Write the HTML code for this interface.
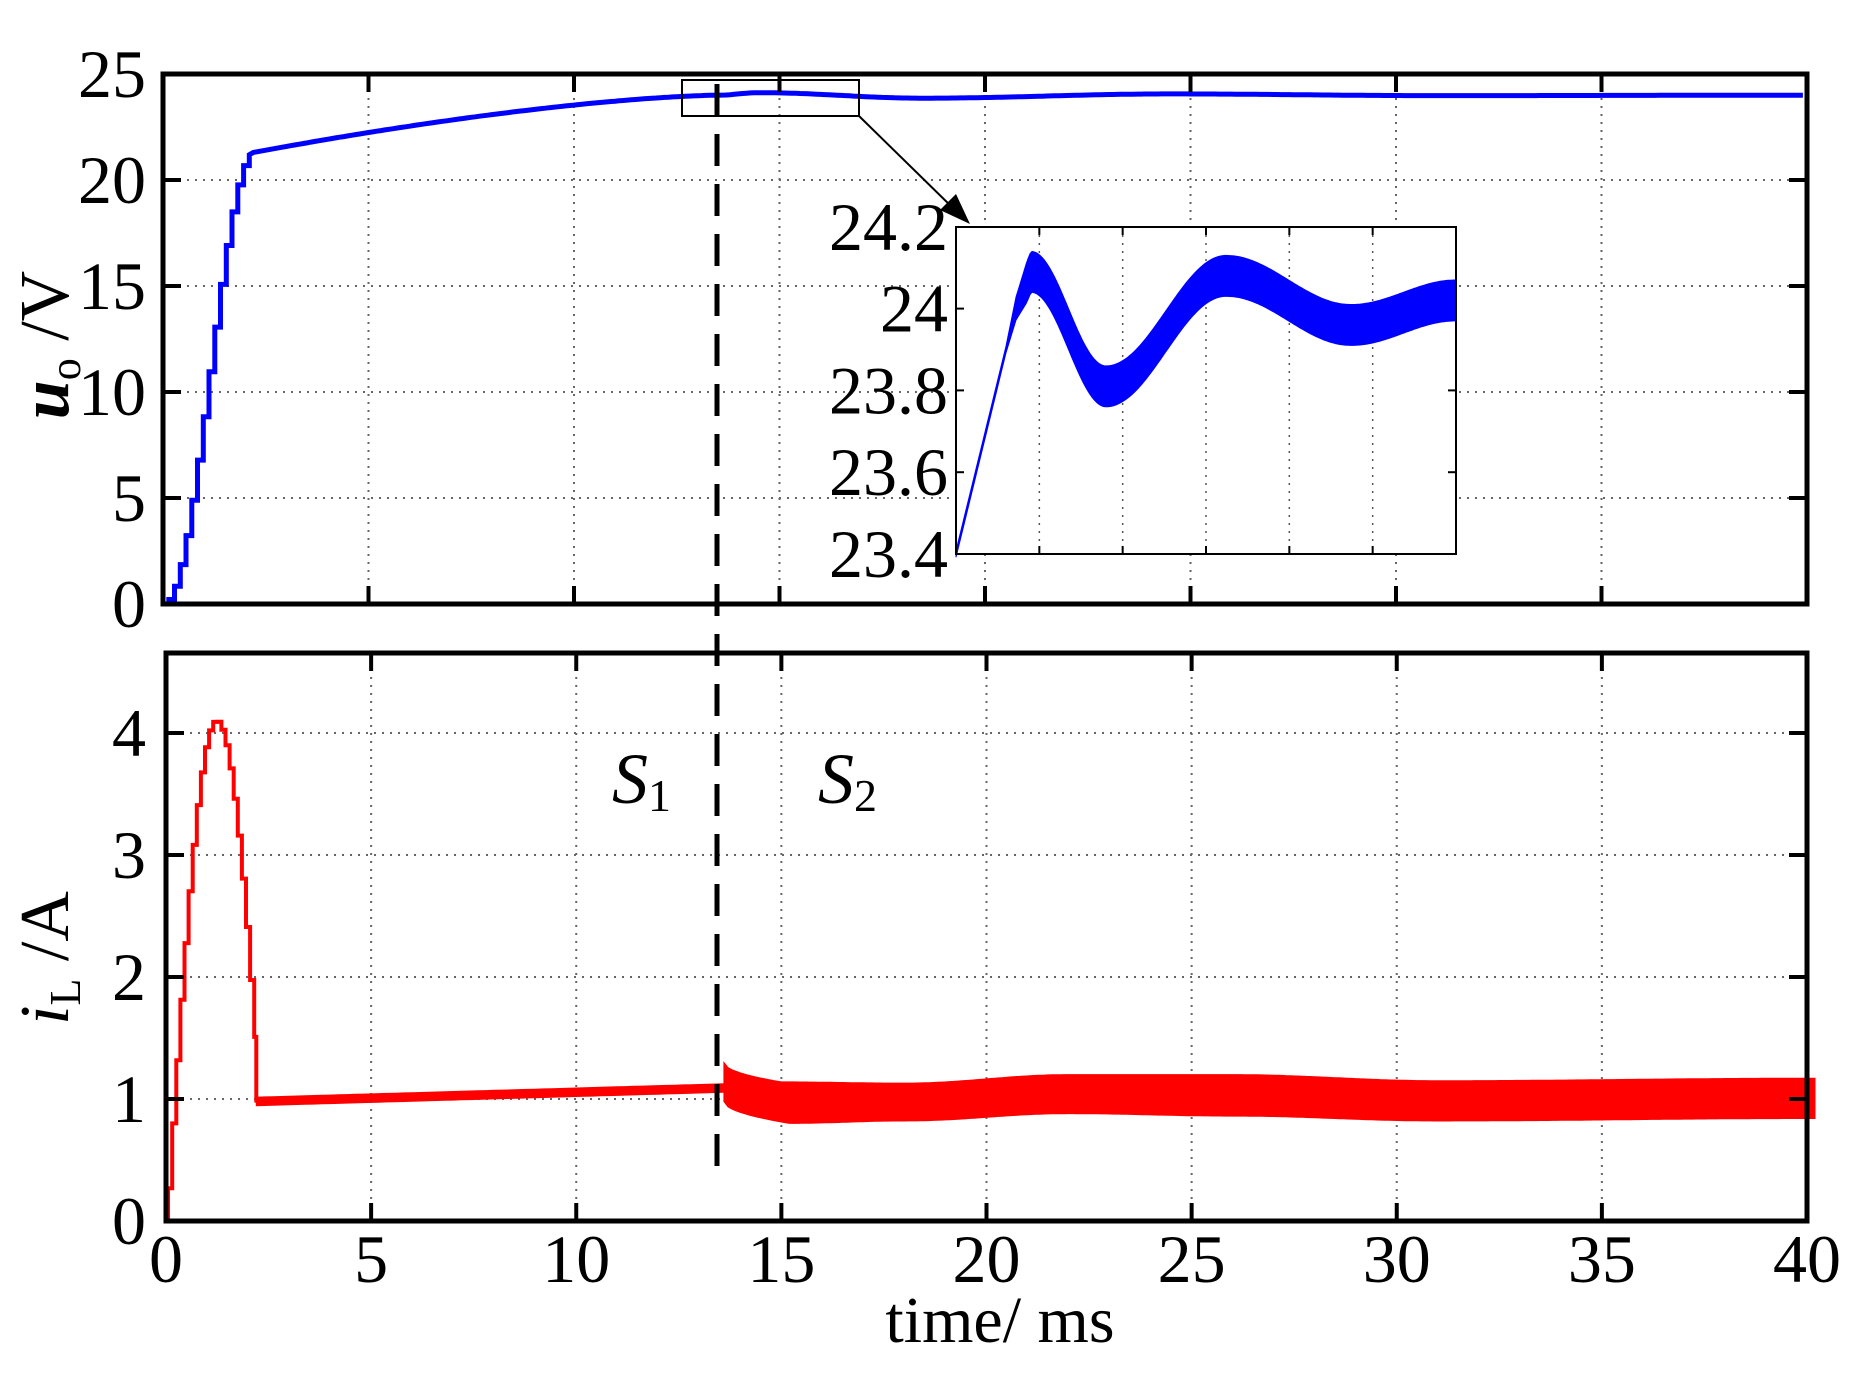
<!DOCTYPE html>
<html><head><meta charset="utf-8"><style>
html,body{margin:0;padding:0;background:#fff;}
svg{display:block;}
text{font-family:"Liberation Serif",serif;fill:#000;}
</style></head><body>
<svg id="s" width="1874" height="1378" viewBox="0 0 1874 1378" xmlns="http://www.w3.org/2000/svg">
<g id="grid" stroke="#666" stroke-width="2" stroke-dasharray="2,6" fill="none"></g>
<g id="data"></g>
<g id="frames" fill="none" stroke="#000"></g>
<g id="labels" font-size="68"></g>
<text transform="translate(68,345) rotate(-90)" font-size="70" text-anchor="middle"><tspan font-style="italic" font-weight="bold">u</tspan><tspan font-size="44" dy="12">o</tspan><tspan dy="-12"> /V</tspan></text>
<text transform="translate(68,958) rotate(-90)" font-size="70" text-anchor="middle"><tspan font-style="italic">i</tspan><tspan font-size="44" dy="12">L</tspan><tspan dy="-12"> /A</tspan></text>
<text x="1000" y="1342" font-size="66" text-anchor="middle">time/ ms</text>
<text x="612" y="803" font-size="72" font-style="italic">S<tspan font-size="46" font-style="normal" dy="8">1</tspan></text>
<text x="818" y="803" font-size="72" font-style="italic">S<tspan font-size="46" font-style="normal" dy="8">2</tspan></text>
</svg>
<script>
var NS="http://www.w3.org/2000/svg";
function el(p,n,a){var e=document.createElementNS(NS,n);for(var k in a)e.setAttribute(k,a[k]);document.getElementById(p).appendChild(e);return e;}
var TL=163,TR=1807,TT=74,TB=604;
var BL=166,BR=1807,BT=653,BB=1221;
function xt(t){return TL+(TR-TL)*t/40;}
function xb(t){return BL+(BR-BL)*t/40;}
function yv(v){return TB-21.2*v;}
function yi(i){return BB-122*i;}
var g="grid";
for(var k=1;k<8;k++){var x=xt(5*k);el(g,"line",{x1:x,y1:TT,x2:x,y2:TB});x=xb(5*k);el(g,"line",{x1:x,y1:BT,x2:x,y2:BB});}
for(var k=1;k<5;k++){var y=yv(5*k);el(g,"line",{x1:TL,y1:y,x2:TR,y2:y});y=yi(k);el(g,"line",{x1:BL,y1:y,x2:BR,y2:y});}
var IL=956,IR=1456,IT=227,IB=554;
var d="M"+xt(0)+","+yv(0);
for(var t=0.14;t<=2.2;t+=0.14){var v=21.3*(1-Math.cos(Math.PI*Math.min(t,2.2)/2.2))/2;d+=" H"+xt(t).toFixed(1)+" V"+yv(v).toFixed(1);}
function vcen(t){
 if(t<=13.5) return 24-2.7*Math.pow((13.5-t)/11.3,1.5);
 var pts=[[13.5,24],[14.5,24.12],[18.5,23.86],[24.5,24.06],[31,23.98],[40,24.0]];
 for(var i=0;i<pts.length-1;i++){var a=pts[i],b=pts[i+1];if(t<=b[0]){var f=(t-a[0])/(b[0]-a[0]);f=(1-Math.cos(Math.PI*f))/2;return a[1]+(b[1]-a[1])*f;}}
 return 24;}
for(var t=2.2;t<=40;t+=0.1){d+=" L"+xt(t).toFixed(1)+","+yv(vcen(t)).toFixed(1);}
el("data","path",{d:d,fill:"none",stroke:"#0000ff","stroke-width":5,"stroke-linejoin":"miter"});
var di="M"+xb(0.05)+","+yi(0);
for(var t=0.05;t<2.2;t+=0.1){var i=t<1.2?4.1*Math.sin(Math.PI*t/2.4):4.1*Math.cos(Math.PI/2*(t-1.2)/1.25);di+=" V"+yi(i).toFixed(1)+" H"+xb(Math.min(t+0.1,2.2)).toFixed(1);}
di+=" V"+yi(0.97);
el("data","path",{d:di,fill:"none",stroke:"#ff0000","stroke-width":4});
var up=[],lo=[];
for(var t=2.2;t<=13.6;t+=0.2){var c=0.98+(1.09-0.98)*(t-2.2)/11.4;up.push([xb(t),yi(c+0.035)]);lo.push([xb(t),yi(c-0.035)]);}
function poly(u,l,col){var s="M"+u.map(function(p){return p[0].toFixed(1)+","+p[1].toFixed(1);}).join(" L");s+=" L"+l.reverse().map(function(p){return p[0].toFixed(1)+","+p[1].toFixed(1);}).join(" L")+"Z";el("data","path",{d:s,fill:col,stroke:col,"stroke-width":1});}
poly(up,lo,"#ff0000");
up=[];lo=[];
var tp=[[13.6,1.3],[15,1.14],[18,1.13],[22,1.2],[26,1.2],[31,1.15],[40,1.17]];
var bp=[[13.6,0.98],[15.2,0.8],[18,0.82],[22,0.88],[26,0.86],[31,0.82],[40,0.84]];
function interp(a,t){for(var i=0;i<a.length-1;i++){if(t<=a[i+1][0]){var f=(t-a[i][0])/(a[i+1][0]-a[i][0]);if(i==0)f=Math.sqrt(f);else f=(1-Math.cos(Math.PI*f))/2;return a[i][1]+(a[i+1][1]-a[i][1])*f;}}return a[a.length-1][1];}
for(var t=13.6;t<=40.01;t+=0.1){var tt=Math.min(t,40);up.push([xb(tt),yi(interp(tp,tt))]);lo.push([xb(tt),yi(interp(bp,tt))]);}
up.push([xb(40)+8,yi(1.17)]);lo.push([xb(40)+8,yi(0.84)]);
poly(up,lo,"#ff0000");
el("data","line",{x1:717,y1:84,x2:717,y2:1180,stroke:"#000","stroke-width":5,"stroke-dasharray":"32,18"});
el("data","rect",{x:IL,y:IT,width:IR-IL,height:IB-IT,fill:"#fff",stroke:"none"});
for(var k=1;k<6;k++){var x=IL+(IR-IL)*k/6;el("data","line",{x1:x,y1:IT,x2:x,y2:IB,stroke:"#555","stroke-width":1.5,"stroke-dasharray":"2,6"});el("data","line",{x1:x,y1:IT,x2:x,y2:IT+8,stroke:"#000","stroke-width":2});el("data","line",{x1:x,y1:IB,x2:x,y2:IB-8,stroke:"#000","stroke-width":2});}
function iy(v){return IB-(v-23.4)*409;}
for(var k=1;k<4;k++){var y=iy(23.4+0.2*k);el("data","line",{x1:IL,y1:y,x2:IL+8,y2:y,stroke:"#000","stroke-width":2});el("data","line",{x1:IR,y1:y,x2:IR-8,y2:y,stroke:"#000","stroke-width":2});}
var ic=[[0.12,24.0],[0.15,24.09],[0.30,23.81],[0.54,24.08],[0.79,23.96],[1.0,24.02]];
function icen(u){if(u<=0.12)return 23.4+0.6*u/0.12;for(var i=0;i<ic.length-1;i++){if(u<=ic[i+1][0]){var f=(u-ic[i][0])/(ic[i+1][0]-ic[i][0]);if(i>0)f=(1-Math.cos(Math.PI*f))/2;return ic[i][1]+(ic[i+1][1]-ic[i][1])*f;}}return 24.02;}
up=[];lo=[];
for(var u=0;u<=1.0001;u+=0.004){var uu=Math.min(u,1);var c=icen(uu);var w=uu<0.1?0.008:Math.min(0.05,0.008+(uu-0.1)*1.0);up.push([IL+(IR-IL)*uu,iy(c+w)]);lo.push([IL+(IR-IL)*uu,iy(c-w)]);}
poly(up,lo,"#0000ff");
el("data","rect",{x:IL,y:IT,width:IR-IL,height:IB-IT,fill:"none",stroke:"#000","stroke-width":2});
el("data","rect",{x:682,y:80,width:177,height:36,fill:"none",stroke:"#000","stroke-width":2});
el("data","line",{x1:859,y1:116,x2:955,y2:210,stroke:"#000","stroke-width":2});
el("data","path",{d:"M970,224 L940,210 L956,194 Z",fill:"#000"});
var f="frames";
el(f,"rect",{x:TL,y:TT,width:TR-TL,height:TB-TT,"stroke-width":5});
el(f,"rect",{x:BL,y:BT,width:BR-BL,height:BB-BT,"stroke-width":5});
for(var k=1;k<8;k++){var x=xt(5*k);el(f,"line",{x1:x,y1:TT,x2:x,y2:TT+18,"stroke-width":4});el(f,"line",{x1:x,y1:TB,x2:x,y2:TB-18,"stroke-width":4});
x=xb(5*k);el(f,"line",{x1:x,y1:BT,x2:x,y2:BT+18,"stroke-width":4});el(f,"line",{x1:x,y1:BB,x2:x,y2:BB-18,"stroke-width":4});}
for(var k=1;k<5;k++){var y=yv(5*k);el(f,"line",{x1:TL,y1:y,x2:TL+18,y2:y,"stroke-width":4});el(f,"line",{x1:TR,y1:y,x2:TR-18,y2:y,"stroke-width":4});
y=yi(k);el(f,"line",{x1:BL,y1:y,x2:BL+18,y2:y,"stroke-width":4});el(f,"line",{x1:BR,y1:y,x2:BR-18,y2:y,"stroke-width":4});}
function tx(x,y,s,a){var e=el("labels","text",{x:x,y:y,"text-anchor":a});e.textContent=s;}
for(var k=0;k<=5;k++)tx(146,yv(5*k)+23,String(5*k),"end");
for(var k=0;k<=4;k++)tx(146,yi(k)+23,String(k),"end");
for(var k=0;k<=8;k++)tx(xb(5*k),1282,String(5*k),"middle");
var il=["23.4","23.6","23.8","24","24.2"];
for(var k=0;k<5;k++)tx(948,iy(23.4+0.2*k)+23,il[k],"end");
</script>
</body></html>
